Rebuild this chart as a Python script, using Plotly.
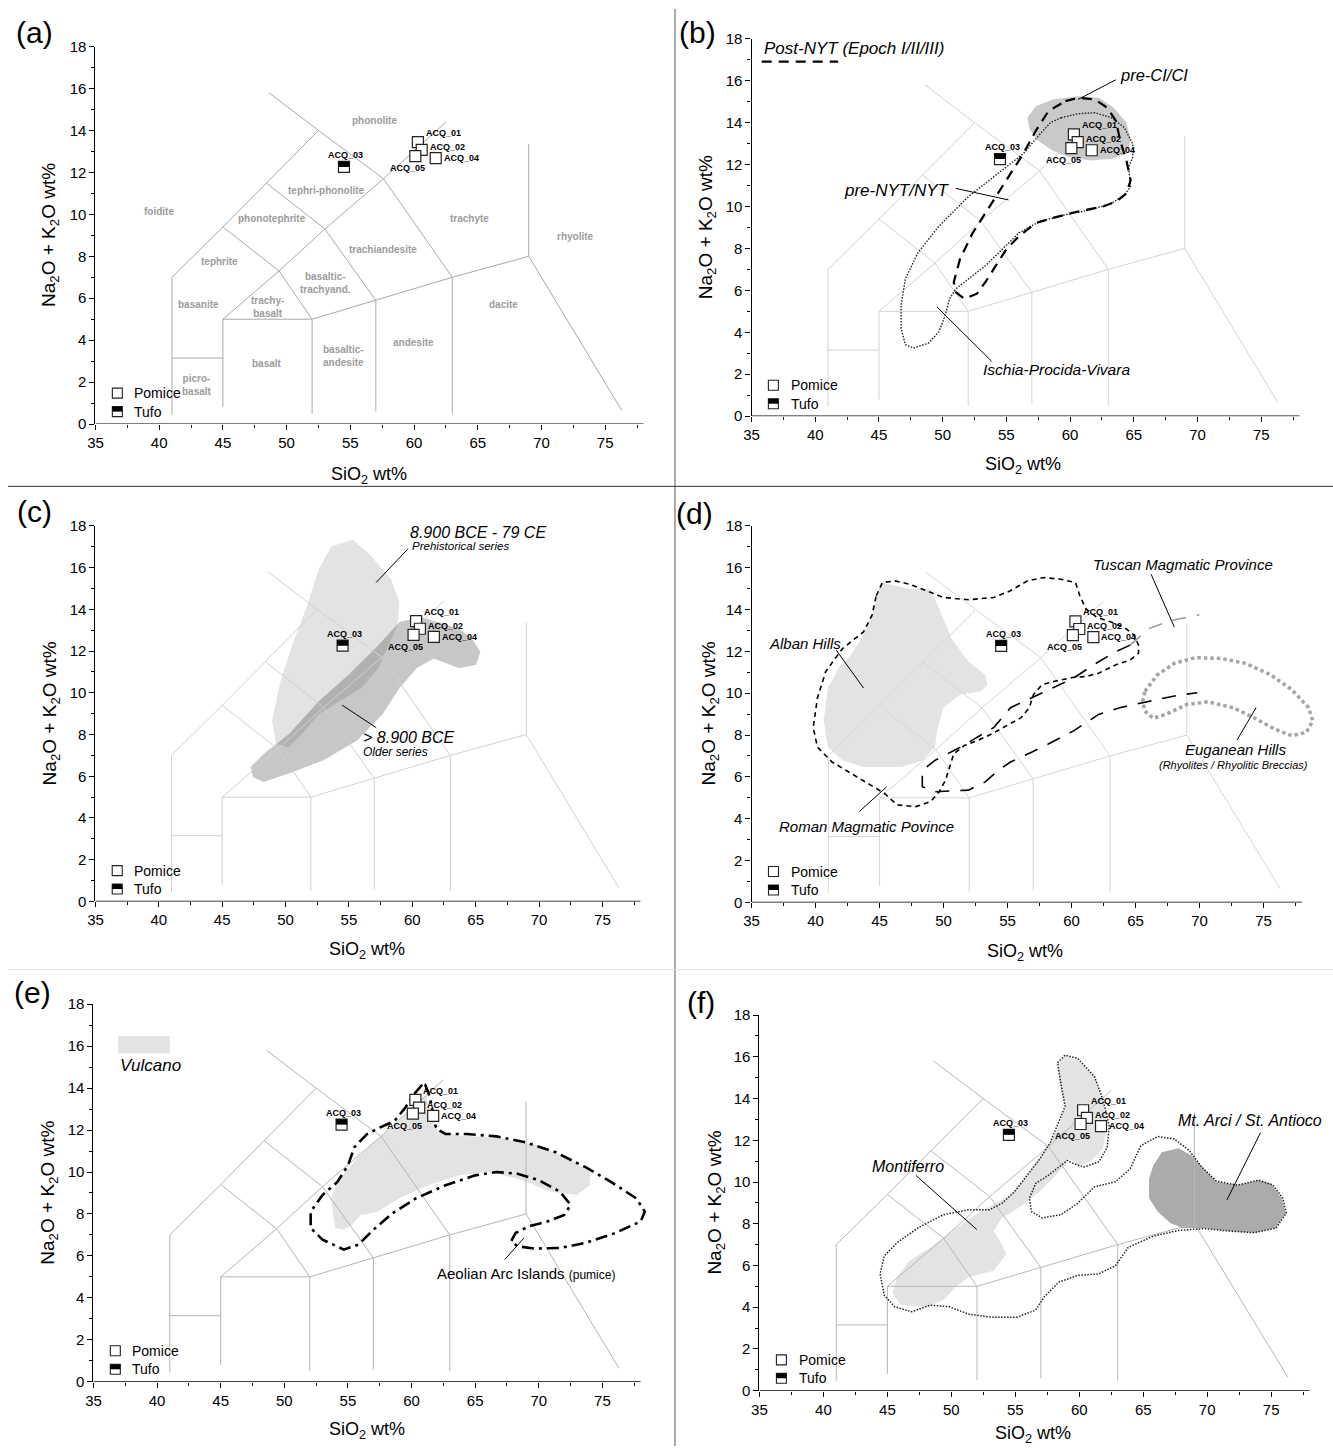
import plotly.graph_objects as go

W, H = 1333, 1454
OFF = 0
FW, FH = W, H
FONT = "Liberation Sans, Arial, Helvetica, sans-serif"

# ---------------- samples ----------------
POMICE_NAMES = ["ACQ_01", "ACQ_02", "ACQ_04", "ACQ_05"]
POMICE_SIO2 = [60.3, 60.6, 61.7, 60.1]
POMICE_ALK = [13.44, 13.07, 12.68, 12.78]
TUFO_NAMES = ["ACQ_03"]
TUFO_SIO2 = [54.5]
TUFO_ALK = [12.26]

# ---------------- TAS boundaries ----------------
TAS_X = [41, 41, 45, 48.4, 52.5, None,
         48.6, 52.5, 57.6, 63, 63, None,
         41, 45, None,
         45, 45, 52, 52, None,
         45, 49.4, 53, 57.6, 62.5, None,
         45, 49.4, 52, None,
         48.4, 53, 57, 57, None,
         52, 57, 63, 69, 69, None,
         69, 76.3]
TAS_Y = [0.45, 7, 9.4, 11.5, 14, None,
         15.8, 14, 11.7, 7, 0.5, None,
         3.15, 3.15, None,
         0.8, 5, 5, 0.5, None,
         5, 7.3, 9.3, 11.7, 14.4, None,
         9.4, 7.3, 5, None,
         11.5, 9.3, 5.9, 0.6, None,
         5, 5.9, 7, 8, 13.35, None,
         8, 0.65]
TAS_LABELS = ["phonolite", "tephri-phonolite", "foidite", "phonotephrite", "trachyte",
              "rhyolite", "trachiandesite", "tephrite", "basaltic-<br>trachyand.",
              "basanite", "trachy-<br>basalt", "dacite", "andesite",
              "basaltic-<br>andesite", "basalt", "picro-<br>basalt"]
TAS_LABEL_X = [56.86, 53.14, 39.99, 48.88, 64.38, 72.70, 57.60, 44.72, 53.07,
               43.09, 48.48, 67.01, 59.96, 54.47, 48.48, 42.99]
TAS_LABEL_Y = [14.46, 11.15, 10.13, 9.79, 9.82, 8.92, 8.31, 7.77, 6.72,
               5.68, 5.60, 5.68, 3.87, 3.26, 2.89, 1.84]

# ---------------- panel (b) fields ----------------
B_PRECI_X = [56.65, 57.31, 58.64, 60.62, 62.27, 63.43, 64.42, 64.75, 64.42, 63.26, 61.61,
             59.96, 58.64, 57.48, 56.82, 56.65]
B_PRECI_Y = [14.23, 14.78, 15.10, 15.25, 15.18, 14.70, 14.00, 13.14, 12.51, 12.27, 12.19,
             12.35, 12.66, 13.14, 13.68, 14.23]
B_POSTNYT_X = [59.63, 60.62, 61.94, 62.93, 63.60, 63.93, 64.42, 64.75, 64.42, 63.60, 62.60,
               60.62, 58.64, 57.31, 55.99, 55.0, 54.01, 53.35, 52.69, 51.69, 51.03, 50.87,
               51.36, 52.36, 53.35, 54.34, 55.33, 56.32, 57.31, 58.31, 59.63]
B_POSTNYT_Y = [15.02, 15.18, 15.10, 14.70, 14.08, 13.14, 12.19, 11.25, 10.62, 10.23, 10.00,
               9.76, 9.45, 9.21, 8.58, 7.96, 7.02, 6.39, 5.84, 5.60, 5.92, 6.39,
               7.49, 8.74, 9.68, 10.62, 11.57, 12.51, 13.61, 14.55, 15.02]
B_PRENYT_X = [59.30, 60.62, 61.94, 63.26, 64.26, 64.92, 64.92, 64.59, 64.75, 64.26, 63.26,
              61.61, 59.63, 57.64, 55.99, 54.67, 53.35, 52.02, 51.03, 50.54, 50.21, 49.71,
              48.88, 47.73, 47.07, 46.74, 46.74, 47.07, 48.06, 49.71, 52.02, 54.34, 56.32,
              57.64, 58.47, 59.30]
B_PRENYT_Y = [14.23, 14.42, 14.47, 14.23, 13.76, 12.98, 12.35, 11.88, 10.94, 10.55, 10.15,
              9.84, 9.60, 9.29, 8.74, 7.96, 7.17, 6.54, 6.07, 5.60, 4.82, 4.03,
              3.48, 3.25, 3.41, 4.19, 5.29, 6.54, 7.80, 9.06, 10.47, 11.57, 12.51,
              13.45, 14.0, 14.23]

# ---------------- panel (c) fields ----------------
C_PREHIST_X = [55.30, 56.64, 58.32, 58.99, 58.83, 57.99, 57.32, 55.97, 54.30, 52.62, 51.28,
               50.27, 49.26, 48.93, 49.60, 50.60, 51.61, 52.62, 53.62, 55.30]
C_PREHIST_Y = [17.34, 16.63, 15.44, 14.34, 13.23, 12.13, 11.18, 10.23, 9.60, 8.97, 8.02,
               7.39, 7.55, 8.65, 10.55, 12.44, 14.02, 15.92, 17.02, 17.34]
C_OLDER_X = [47.42, 47.25, 48.26, 50.27, 52.62, 54.97, 57.32, 58.99, 60.67, 62.01, 63.69,
             64.70, 65.37, 65.03, 63.69, 61.68, 60.34, 58.99, 57.65, 55.64, 52.95, 50.27,
             48.26, 47.42]
C_OLDER_Y = [5.97, 6.44, 7.07, 8.02, 9.60, 10.86, 12.28, 13.39, 13.63, 13.39, 13.07,
             12.60, 11.97, 11.34, 11.18, 11.65, 11.18, 10.23, 8.97, 7.71, 6.76, 6.13,
             5.73, 5.97]

# ---------------- panel (d) fields ----------------
D_ALBAN_X = [45.07, 47.36, 49.0, 49.66, 50.64, 51.95, 53.26, 53.43, 52.93, 51.30, 49.98,
             49.49, 49.33, 48.34, 46.70, 43.75, 42.11, 40.97, 40.64, 40.97, 41.79, 42.77,
             43.75, 44.41, 44.90, 45.07]
D_ALBAN_Y = [15.29, 14.98, 14.98, 14.03, 12.61, 11.51, 10.88, 10.41, 10.09, 9.94, 9.31,
             8.20, 7.42, 6.79, 6.47, 6.47, 6.79, 7.42, 8.68, 10.25, 11.20, 11.83,
             12.77, 13.72, 14.82, 15.29]
D_ROMAN_X = [44.74, 45.23, 46.21, 47.36, 48.67, 49.98, 51.95, 53.92, 55.23, 56.54, 57.85,
             59.16, 60.31, 60.64, 61.13, 61.95, 63.10, 64.25, 64.90, 65.23, 65.23, 64.57,
             63.43, 62.11, 61.13, 60.15, 58.67, 57.69, 57.03, 56.70, 56.05, 54.90, 53.75,
             52.61, 51.62, 50.80, 50.48, 50.15, 49.66, 49.0, 47.85, 46.38, 45.39, 44.08,
             42.77, 41.30, 40.15, 39.82, 40.15, 40.80, 42.11, 43.75, 44.41, 44.74]
D_ROMAN_Y = [14.66, 15.29, 15.37, 15.21, 14.90, 14.58, 14.47, 14.58, 14.90, 15.37, 15.53,
             15.45, 15.29, 14.66, 14.03, 13.64, 13.40, 13.09, 12.77, 12.30, 11.91, 11.59,
             11.35, 10.96, 10.80, 10.76, 10.57, 10.41, 9.94, 9.31, 8.83, 8.44, 8.05,
             7.73, 7.50, 7.10, 6.47, 5.84, 5.29, 4.82, 4.58, 4.66, 5.21, 5.69,
             6.16, 6.71, 7.42, 8.36, 9.78, 11.04, 12.14, 12.93, 13.72, 14.66]
D_TUSCAN_X = [64.57, 63.43, 61.79, 60.15, 58.51, 56.54, 55.23, 53.92, 52.61, 51.30, 49.33,
              48.34, 48.34, 49.33, 51.95, 53.26, 54.25, 55.23, 56.87, 58.18, 60.15, 62.11,
              63.75, 66.05, 68.34, 69.82]
D_TUSCAN_Y = [12.30, 11.98, 11.39, 10.72, 10.25, 9.70, 9.31, 8.36, 7.89, 7.42, 6.79,
              6.31, 5.53, 5.29, 5.37, 5.76, 6.31, 6.71, 7.18, 7.57, 8.20, 8.99,
              9.31, 9.62, 9.91, 10.02]
D_TUSCAN_GREY_X = [64.57, 66.05, 67.6, 69.98]
D_TUSCAN_GREY_Y = [12.30, 13.09, 13.45, 13.75]
D_EUGANEAN_X = [65.72, 66.70, 68.02, 69.66, 71.62, 73.59, 75.56, 77.20, 78.51, 78.84, 78.34,
                77.20, 75.89, 74.25, 72.61, 70.64, 69.0, 67.36, 66.38, 65.72, 65.56, 65.72]
D_EUGANEAN_Y = [10.09, 10.88, 11.43, 11.70, 11.67, 11.43, 10.88, 10.17, 9.31, 8.68, 8.13,
                7.97, 8.28, 8.83, 9.31, 9.59, 9.46, 8.99, 8.80, 9.15, 9.62, 10.09]

# ---------------- panel (e) fields ----------------
E_VULCANO_X = [54.0, 53.67, 54.17, 55.67, 57.33, 58.67, 59.83, 60.33, 61.17, 61.5, 62.0,
               63.67, 66.67, 70.0, 72.33, 74.0, 74.0, 73.0, 71.0, 68.33, 66.0, 63.67,
               61.33, 59.0, 57.33, 56.0, 55.33, 54.67, 54.0]
E_VULCANO_Y = [7.33, 8.74, 9.53, 10.63, 11.57, 12.20, 12.99, 13.46, 13.61, 12.83, 12.04,
               11.73, 11.65, 11.26, 10.63, 10.0, 9.37, 8.90, 9.06, 9.68, 10.0, 9.84,
               9.37, 8.74, 8.11, 7.95, 7.49, 7.25, 7.33]
E_AEOLIAN_X = [60.83, 60.17, 59.5, 58.67, 57.5, 56.5, 55.5, 55.0, 54.17, 53.0, 52.07, 52.07,
               53.0, 54.67, 55.83, 57.0, 58.5, 60.33, 62.67, 65.0, 66.67, 68.33, 70.0, 71.67,
               72.5, 72.0, 70.67, 69.17, 68.17, 67.83, 68.33, 69.67, 71.67, 73.67, 76.0, 78.0,
               78.33, 77.67, 75.67, 73.67, 71.33, 69.0, 66.67, 64.33, 62.67, 62.0, 61.67,
               61.6, 61.33, 61.07, 60.83]
E_AEOLIAN_Y = [14.16, 13.69, 13.06, 12.44, 12.12, 11.81, 11.18, 10.31, 9.53, 8.90, 8.11, 7.33,
               6.78, 6.30, 6.54, 7.25, 8.03, 8.74, 9.37, 9.84, 10.0, 9.92, 9.61, 9.06,
               8.43, 7.95, 7.64, 7.40, 7.09, 6.70, 6.46, 6.35, 6.38, 6.62, 7.09, 7.64,
               8.11, 8.74, 9.53, 10.23, 10.94, 11.41, 11.70, 11.81, 11.81, 12.04, 12.51,
               13.14, 13.77, 14.16, 14.16]

# ---------------- panel (f) fields ----------------
F_LIGHT_X = [58.89, 59.88, 61.19, 61.85, 62.18, 61.85, 60.86, 59.88, 59.22, 58.89, 57.91,
             56.92, 55.60, 53.96, 53.30, 53.96, 54.29, 53.30, 51.33, 50.35, 49.36, 48.05,
             46.07, 45.42, 45.75, 46.73, 48.37, 50.02, 52.32, 54.62, 56.26, 57.58, 58.40,
             58.89, 58.40, 58.40, 58.89]
F_LIGHT_Y = [16.08, 15.84, 15.05, 13.95, 12.69, 11.59, 10.96, 10.80, 11.11, 10.80, 10.17,
             9.54, 8.91, 8.28, 7.65, 7.01, 6.54, 5.75, 5.44, 4.97, 4.33, 4.02,
             4.10, 4.65, 5.44, 6.23, 6.86, 7.65, 8.60, 9.38, 10.64, 11.74, 12.69,
             13.64, 14.74, 15.69, 16.08]
F_ARCI_X = [66.45, 67.76, 68.75, 69.74, 70.72, 72.36, 74.01, 74.99, 75.82, 76.14, 75.32,
            73.68, 71.71, 69.74, 68.09, 67.11, 66.12, 65.46, 65.46, 65.79, 66.45]
F_ARCI_Y = [11.43, 11.62, 11.27, 10.64, 10.01, 9.85, 10.09, 9.93, 9.22, 8.51, 7.80,
            7.57, 7.65, 7.80, 7.80, 8.04, 8.59, 9.22, 10.17, 10.80, 11.43]
F_OUTLINE_X = [58.30, 58.89, 59.88, 61.19, 61.85, 62.34, 62.18, 61.52, 60.37, 59.55, 59.06,
               58.56, 57.58, 56.59, 56.10, 56.26, 57.08, 58.56, 59.88, 61.19, 62.83, 63.98,
               64.81, 66.12, 67.43, 68.59, 69.57, 70.72, 72.36, 74.01, 75.16, 75.91, 76.18,
               75.39, 73.68, 71.71, 69.74, 67.76, 65.79, 63.82, 62.83, 61.52, 59.88, 58.40,
               57.25, 56.59, 55.11, 53.14, 51.33, 49.85, 48.37, 46.90, 45.58, 44.76, 44.43,
               44.76, 45.75, 47.39, 49.36, 51.33, 52.98, 53.96, 54.95, 55.93, 56.92, 57.74,
               58.40, 58.89, 58.56, 58.30]
F_OUTLINE_Y = [15.72, 16.08, 15.92, 15.05, 13.95, 12.69, 11.66, 10.96, 10.72, 10.88, 11.03,
               10.80, 10.32, 9.93, 9.22, 8.59, 8.28, 8.43, 8.98, 9.77, 10.01, 10.64,
               11.74, 12.18, 12.06, 11.51, 10.72, 10.04, 9.85, 10.09, 9.85, 9.22, 8.51,
               7.80, 7.57, 7.65, 7.77, 7.68, 7.41, 6.86, 5.99, 5.60, 5.52, 5.20,
               4.49, 3.86, 3.52, 3.52, 3.67, 4.02, 4.10, 3.78, 4.02, 4.57, 5.60,
               6.46, 7.09, 7.80, 8.43, 8.67, 8.67, 8.98, 9.54, 10.32, 11.11, 11.90,
               12.85, 13.63, 14.74, 15.72]

# ---------------- layout of the six panels (page pixel geometry) ----------------
PANELS = [
    dict(key="a", n=1, x0=88, ppu=12.82, ybot=420, ytop=38, grid="#a9a9a9", lab=(27, 24), ytit=(43, 229), xtit=(363, 472)),
    dict(key="b", n=2, x0=748, ppu=12.82, ybot=412, ytop=30, grid="#d2d2d2", lab=(694, 24), ytit=(704, 221), xtit=(1021, 462)),
    dict(key="c", n=3, x0=88, ppu=12.75, ybot=903, ytop=523, grid="#d0d0d0", lab=(27, 508), ytit=(43, 713), xtit=(361, 953)),
    dict(key="d", n=4, x0=748, ppu=12.88, ybot=904, ytop=523, grid="#d6d6d6", lab=(691, 510), ytit=(706, 713), xtit=(1023, 955)),
    dict(key="e", n=5, x0=86, ppu=12.8, ybot=1389, ytop=1007, grid="#b4b4b4", lab=(25, 995), ytit=(41, 1198), xtit=(361, 1438)),
    dict(key="f", n=6, x0=756, ppu=12.87, ybot=1398, ytop=1018, grid="#b8b8b8", lab=(697, 1005), ytit=(712, 1208), xtit=(1031, 1442)),
]
XMIN, XMAX, XAX_END = 35, 79, 78

LABEL_STYLE = {"ACQ_01": ("left", 6, 9), "ACQ_02": ("left", 6, 3), "ACQ_04": ("left", 6, 0),
               "ACQ_05": ("center", -8, -12), "ACQ_03": ("center", 2, 12)}

fig = go.Figure()
annotations = []
shapes = []
layout = {}


def refs(n):
    s = "" if n == 1 else str(n)
    return "x" + s, "y" + s


def px2paper(px, py):
    return (px - OFF) / FW, 1 - (py - OFF) / FH


def poly(n, xs, ys, fill=None, color=None, dash=None, width=1.0):
    xr, yr = refs(n)
    kw = dict(x=xs, y=ys, xaxis=xr, yaxis=yr, mode="lines", showlegend=False, hoverinfo="skip")
    if fill:
        kw.update(fill="toself", fillcolor=fill, line=dict(width=0, color="rgba(0,0,0,0)"))
    else:
        kw.update(line=dict(color=color, width=width, dash=dash))
    fig.add_trace(go.Scatter(**kw))


def note(n, text, x, y, size=15, anchor="center", color="black"):
    xr, yr = refs(n)
    annotations.append(dict(text=text, x=x, y=y, xref=xr, yref=yr, showarrow=False,
                            xanchor=anchor, yanchor="middle",
                            font=dict(family=FONT, size=size, color=color)))


def leader(n, x0, y0, x1, y1):
    xr, yr = refs(n)
    shapes.append(dict(type="line", xref=xr, yref=yr, x0=x0, y0=y0, x1=x1, y1=y1,
                       line=dict(color="black", width=1)))


for p in PANELS:
    n = p["n"]
    xr, yr = refs(n)
    x1px = min(p["x0"] + (XMAX - XMIN) * p["ppu"], OFF + FW)
    xmax = XMIN + (x1px - p["x0"]) / p["ppu"]
    dx0, _ = px2paper(p["x0"], 0)
    dx1, _ = px2paper(x1px, 0)
    _, dy0 = px2paper(0, p["ybot"])
    _, dy1 = px2paper(0, p["ytop"])
    axname = "xaxis" if n == 1 else "xaxis%d" % n
    ayname = "yaxis" if n == 1 else "yaxis%d" % n
    layout[axname] = dict(domain=[max(dx0, 0), min(dx1, 1)], range=[XMIN, xmax], anchor=yr, showgrid=False,
                          zeroline=False, showline=False, ticks="outside", ticklen=5, tickwidth=1.2,
                          tickcolor="black", tick0=35, dtick=5,
                          minor=dict(ticks="outside", ticklen=3, tickwidth=1, tickcolor="black", dtick=2.5, showgrid=False),
                          tickfont=dict(family=FONT, size=15, color="black"), fixedrange=True)
    layout[ayname] = dict(domain=[max(dy0, 0), min(dy1, 1)], range=[0, 18], anchor=xr, showgrid=False,
                          zeroline=False, showline=True, linecolor="black", linewidth=1.3,
                          ticks="outside", ticklen=5, tickwidth=1.2, tickcolor="black",
                          tick0=0, dtick=2,
                          minor=dict(ticks="outside", ticklen=3, tickwidth=1, tickcolor="black", dtick=1, showgrid=False),
                          tickfont=dict(family=FONT, size=15, color="black"), fixedrange=True)
    # x axis base line from 35 to 78
    shapes.append(dict(type="line", xref=xr, yref=yr, x0=XMIN, x1=XAX_END, y0=0, y1=0,
                       line=dict(color="black", width=1.3)))

    # ---------- background fields ----------
    k = p["key"]
    if k == "b":
        poly(n, B_PRECI_X, B_PRECI_Y, fill="#c9c9c9")
    elif k == "c":
        poly(n, C_PREHIST_X, C_PREHIST_Y, fill="rgba(0,0,0,0.11)")
        poly(n, C_OLDER_X, C_OLDER_Y, fill="rgba(0,0,0,0.22)")
    elif k == "d":
        poly(n, D_ALBAN_X, D_ALBAN_Y, fill="#e3e3e3")
    elif k == "e":
        poly(n, E_VULCANO_X, E_VULCANO_Y, fill="#e3e3e3")
    elif k == "f":
        poly(n, F_LIGHT_X, F_LIGHT_Y, fill="#e3e3e3")
        poly(n, F_ARCI_X, F_ARCI_Y, fill="#ababab")

    # TAS grid
    poly(n, TAS_X, TAS_Y, color=p["grid"], width=1)

    # ---------- outlines ----------
    if k == "b":
        poly(n, B_PRENYT_X, B_PRENYT_Y, color="#222", dash="1.5px,1.5px", width=1.4)
        poly(n, B_POSTNYT_X, B_POSTNYT_Y, color="black", dash="10px,7px", width=2.2)
    elif k == "d":
        poly(n, D_ROMAN_X, D_ROMAN_Y, color="black", dash="5px,4px", width=1.6)
        poly(n, D_TUSCAN_X, D_TUSCAN_Y, color="black", dash="14px,11px", width=1.6)
        poly(n, D_TUSCAN_GREY_X, D_TUSCAN_GREY_Y, color="#999", dash="14px,11px", width=1.6)
        poly(n, D_EUGANEAN_X, D_EUGANEAN_Y, color="#a5a5a5", dash="3.5px,3px", width=3.5)
    elif k == "e":
        poly(n, E_AEOLIAN_X, E_AEOLIAN_Y, color="black", dash="12px,5px,3px,5px", width=2.6)
    elif k == "f":
        poly(n, F_OUTLINE_X, F_OUTLINE_Y, color="#222", dash="1.5px,1.5px", width=1.5)

    # ---------- samples ----------
    fig.add_trace(go.Scatter(x=POMICE_SIO2, y=POMICE_ALK, xaxis=xr, yaxis=yr, mode="markers",
                             name="Pomice", showlegend=False, cliponaxis=False,
                             marker=dict(symbol="square", size=11, color="white",
                                         line=dict(color="#222", width=1.2))))
    fig.add_trace(go.Scatter(x=TUFO_SIO2, y=TUFO_ALK, xaxis=xr, yaxis=yr, mode="markers",
                             name="Tufo", showlegend=False, cliponaxis=False,
                             marker=dict(symbol="square", size=11, color="white",
                                         line=dict(color="#222", width=1.2))))
    for sx, sy in zip(TUFO_SIO2, TUFO_ALK):
        shapes.append(dict(type="rect", xref=xr, yref=yr, xsizemode="pixel", ysizemode="pixel",
                           xanchor=sx, yanchor=sy, x0=-5.5, x1=5.5, y0=0, y1=5.5,
                           fillcolor="black", line=dict(width=0)))
    for name, sx, sy in zip(POMICE_NAMES + TUFO_NAMES, POMICE_SIO2 + TUFO_SIO2, POMICE_ALK + TUFO_ALK):
        anc, xs, ys = LABEL_STYLE[name]
        annotations.append(dict(text="<b>%s</b>" % name, x=sx, y=sy, xref=xr, yref=yr,
                                showarrow=False, xanchor=anc, yanchor="middle", xshift=xs, yshift=ys,
                                font=dict(family=FONT, size=9, color="black")))

    # ---------- legend (lower-left) ----------
    dxr, dyr = xr + " domain", yr + " domain"
    for yy, half in ((0.082, False), (0.033, True)):
        shapes.append(dict(type="rect", xref=dxr, yref=dyr, xsizemode="pixel", ysizemode="pixel",
                           xanchor=0.039, yanchor=yy, x0=-5, x1=5, y0=-5, y1=5,
                           fillcolor="white", line=dict(color="#222", width=1.1)))
        if half:
            shapes.append(dict(type="rect", xref=dxr, yref=dyr, xsizemode="pixel", ysizemode="pixel",
                               xanchor=0.039, yanchor=yy, x0=-5, x1=5, y0=0, y1=5,
                               fillcolor="black", line=dict(width=0)))
    for yy, txt in ((0.082, "Pomice"), (0.033, "Tufo")):
        annotations.append(dict(text=txt, x=0.066, y=yy, xref=dxr, yref=dyr, showarrow=False,
                                xanchor="left", yanchor="middle",
                                font=dict(family=FONT, size=14, color="black")))

    # ---------- panel label and axis titles ----------
    lx, ly = px2paper(*p["lab"])
    annotations.append(dict(text="(%s)" % k, x=lx, y=ly, xref="paper", yref="paper", showarrow=False,
                            xanchor="center", yanchor="middle", font=dict(family=FONT, size=30, color="black")))
    tx, ty = px2paper(*p["ytit"])
    annotations.append(dict(text="Na<sub>2</sub>O + K<sub>2</sub>O wt%", x=tx, y=ty, xref="paper", yref="paper",
                            showarrow=False, textangle=-90, xanchor="center", yanchor="middle",
                            font=dict(family=FONT, size=19, color="black")))
    tx, ty = px2paper(*p["xtit"])
    annotations.append(dict(text="SiO<sub>2</sub> wt%", x=tx, y=ty, xref="paper", yref="paper",
                            showarrow=False, xanchor="center", yanchor="middle",
                            font=dict(family=FONT, size=18, color="black")))

# ---------- panel specific labels ----------
for lab, lx, ly in zip(TAS_LABELS, TAS_LABEL_X, TAS_LABEL_Y):
    note(1, "<b>%s</b>" % lab, lx, ly, size=10, color="#9c9c9c")

# (b)
note(2, "<i>Post-NYT (Epoch I/II/III)</i>", 35.8, 17.55, size=17, anchor="left")
shapes.append(dict(type="line", xref="x2", yref="y2", x0=35.8, x1=41.8, y0=16.9, y1=16.9,
                   line=dict(color="black", width=2.2, dash="10px,7px")))
note(2, "<i>pre-CI/CI</i>", 66.57, 16.27, size=16.5)
leader(2, 63.60, 16.04, 60.62, 15.10)
note(2, "<i>pre-NYT/NYT</i>", 46.40, 10.78, size=17)
leader(2, 51.03, 10.86, 55.17, 10.31)
note(2, "<i>Ischia-Procida-Vivara</i>", 58.97, 2.23, size=15.5)
leader(2, 53.84, 2.62, 49.55, 5.21)

# (c)
note(3, "<i>8.900 BCE - 79 CE</i>", 59.66, 17.7, size=16, anchor="left")
note(3, "<i>Prehistorical series</i>", 59.83, 17.03, size=11.5, anchor="left")
leader(3, 59.66, 16.9, 57.15, 15.29)
note(3, "<i>&gt; 8.900 BCE</i>", 55.97, 7.87, size=16, anchor="left")
note(3, "<i>Older series</i>", 55.97, 7.15, size=12, anchor="left")
leader(3, 57.15, 8.33, 54.46, 9.41)

# (d)
note(4, "<i>Tuscan Magmatic Province</i>", 68.74, 16.16, size=15)
leader(4, 66.21, 15.69, 68.02, 13.17)
note(4, "<i>Alban Hills</i>", 39.16, 12.38, size=15)
leader(4, 41.62, 12.06, 43.75, 10.25)
note(4, "<i>Roman Magmatic Povince</i>", 43.98, 3.64, size=15)
leader(4, 43.43, 4.35, 45.56, 5.53)
note(4, "<i>Euganean Hills</i>", 72.84, 7.3, size=15)
note(4, "<i>(Rhyolites / Rhyolitic Breccias)</i>", 72.61, 6.55, size=11)
leader(4, 72.93, 7.77, 74.41, 9.31)

# (e)
shapes.append(dict(type="rect", xref="x5", yref="y5", x0=36.93, x1=41.0, y0=15.66, y1=16.48,
                   fillcolor="#e3e3e3", line=dict(width=0)))
note(5, "<i>Vulcano</i>", 36.93, 15.08, size=17, anchor="left")
note(5, "Aeolian Arc Islands <span style='font-size:12px'>(pumice)</span>", 61.83, 5.16, size=15, anchor="left")
leader(5, 67.33, 5.83, 68.83, 6.85)

# (f)
note(6, "<i>Montiferro</i>", 46.63, 10.72, size=16)
leader(6, 47.22, 10.32, 51.99, 7.72)
note(6, "<i>Mt. Arci / St. Antioco</i>", 73.35, 12.93, size=16)
leader(6, 74.17, 12.37, 71.54, 9.14)

# ---------- separators ----------
vx, _ = px2paper(671, 0)
_, h1 = px2paper(0, 483)
_, h2 = px2paper(0, 972)
shapes.append(dict(type="line", xref="paper", yref="paper", x0=vx, x1=vx, y0=0, y1=1,
                   line=dict(color="#555", width=1)))
shapes.append(dict(type="line", xref="paper", yref="paper", x0=0, x1=1, y0=h1, y1=h1,
                   line=dict(color="#333", width=1)))
shapes.append(dict(type="line", xref="paper", yref="paper", x0=0, x1=1, y0=h2, y1=h2,
                   line=dict(color="#e2e2e2", width=1)))

fig.update_layout(width=FW, height=FH, autosize=False, margin=dict(l=0, r=0, t=0, b=0),
                  paper_bgcolor="white", plot_bgcolor="white", showlegend=False,
                  annotations=annotations, shapes=shapes, **layout)

fig.write_html("out.html")
